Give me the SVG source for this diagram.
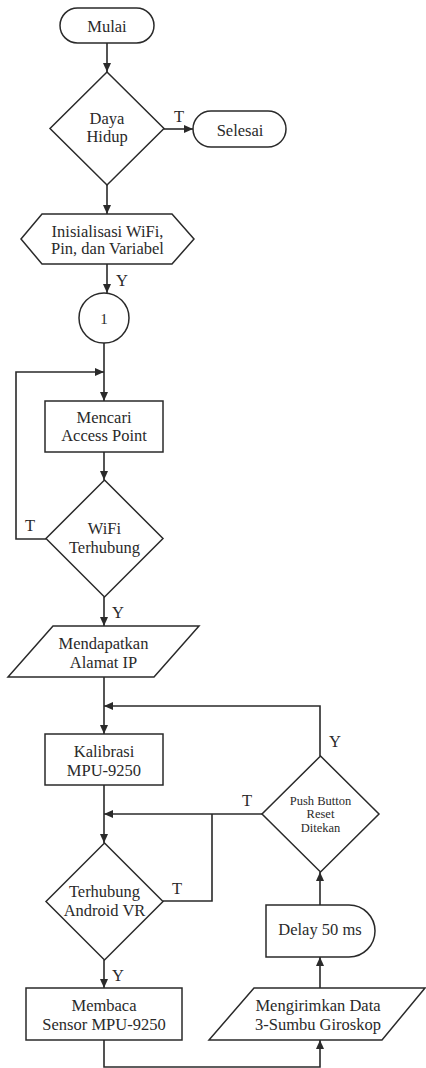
<svg xmlns="http://www.w3.org/2000/svg" width="426" height="1068" viewBox="0 0 426 1068" font-family="'Liberation Serif', Tinos, 'Times New Roman', 'Nimbus Roman', 'DejaVu Serif', serif">
<style>
.s{fill:#fff;stroke:#2a2a2a;stroke-width:1.5}
.c{fill:none;stroke:#2a2a2a;stroke-width:1.6}
text{font-family:'Liberation Serif', Tinos, 'Times New Roman', 'Nimbus Roman', 'DejaVu Serif', serif;font-size:16.5px;fill:#2a2a2a;text-anchor:middle}
.sm{font-size:12.5px}
</style>
<defs>
<marker id="a" markerUnits="userSpaceOnUse" markerWidth="10" markerHeight="10" refX="9" refY="4" orient="auto">
<path d="M0,0 L9,4 L0,8 Z" fill="#2a2a2a"/>
</marker>
</defs>
<rect width="426" height="1068" fill="#fff"/>
<g id="connectors">
<path class="c" d="M107,43 V72" marker-end="url(#a)"/>
<path class="c" d="M164,129 H193" marker-end="url(#a)"/>
<path class="c" d="M107,185 V214" marker-end="url(#a)"/>
<path class="c" d="M107,264 V293" marker-end="url(#a)"/>
<path class="c" d="M104,343 V401" marker-end="url(#a)"/>
<path class="c" d="M46,539 H16 V372 H104" marker-end="url(#a)"/>
<path class="c" d="M104,452 V480" marker-end="url(#a)"/>
<path class="c" d="M104,597 V626" marker-end="url(#a)"/>
<path class="c" d="M104,677 V734" marker-end="url(#a)"/>
<path class="c" d="M320,756 V706 H104" marker-end="url(#a)"/>
<path class="c" d="M104,785 V843" marker-end="url(#a)"/>
<path class="c" d="M262,814 H104" marker-end="url(#a)"/>
<path class="c" d="M163,901 H212 V814"/>
<path class="c" d="M104,960 V988" marker-end="url(#a)"/>
<path class="c" d="M104,1040 V1067 H320 V1040" marker-end="url(#a)"/>
<path class="c" d="M320,988 V957" marker-end="url(#a)"/>
<path class="c" d="M320,905 V872" marker-end="url(#a)"/>
<text x="179" y="122">T</text>
<text x="122" y="286">Y</text>
<text x="30" y="531">T</text>
<text x="118" y="618">Y</text>
<text x="335" y="747">Y</text>
<text x="247" y="806">T</text>
<text x="177" y="894">T</text>
<text x="118" y="981">Y</text>
</g>
<g id="mulai">
<rect class="s" x="60" y="8" width="94" height="35" rx="17.5"/>
<text x="107" y="32">Mulai</text>
</g>
<g id="daya-hidup">
<path class="s" d="M107,72 L164,128.5 L107,185 L50,128.5 Z"/>
<text x="107" y="124">Daya</text>
<text x="107" y="142">Hidup</text>
</g>
<g id="selesai">
<rect class="s" x="193" y="111" width="93" height="36" rx="18"/>
<text x="240" y="136">Selesai</text>
</g>
<g id="inisialisasi">
<path class="s" d="M42,214 H172 L194,239 L172,264 H42 L21,239 Z"/>
<text x="107.5" y="236.5">Inisialisasi WiFi,</text>
<text x="107.5" y="254">Pin, dan Variabel</text>
</g>
<g id="connector-1">
<circle class="s" cx="104" cy="318" r="25"/>
<text x="104" y="324" style="font-size:15px">1</text>
</g>
<g id="mencari">
<rect class="s" x="45" y="401" width="118" height="51"/>
<text x="104" y="423">Mencari</text>
<text x="104" y="441">Access Point</text>
</g>
<g id="wifi-terhubung">
<path class="s" d="M104.5,480 L163,538.5 L104.5,597 L46,538.5 Z"/>
<text x="104.5" y="534">WiFi</text>
<text x="104.5" y="553">Terhubung</text>
</g>
<g id="mendapatkan">
<path class="s" d="M53,626 H199 L154,677 H8 Z"/>
<text x="103.5" y="649">Mendapatkan</text>
<text x="103.5" y="668">Alamat IP</text>
</g>
<g id="kalibrasi">
<rect class="s" x="45" y="734" width="118" height="51"/>
<text x="104" y="757">Kalibrasi</text>
<text x="104" y="776">MPU-9250</text>
</g>
<g id="terhubung-android">
<path class="s" d="M104.5,843 L163,901.5 L104.5,960 L46,901.5 Z"/>
<text x="104.5" y="897">Terhubung</text>
<text x="104.5" y="916">Android VR</text>
</g>
<g id="membaca">
<rect class="s" x="26" y="988" width="156" height="52"/>
<text x="104" y="1011">Membaca</text>
<text x="104" y="1030">Sensor MPU-9250</text>
</g>
<g id="mengirimkan">
<path class="s" d="M254,988 H425 L382,1040 H209 Z"/>
<text x="318" y="1011">Mengirimkan Data</text>
<text x="318" y="1030">3-Sumbu Giroskop</text>
</g>
<g id="delay">
<path class="s" d="M266,905 H349 A26,26 0 0 1 349,957 H266 Z"/>
<text x="320" y="935">Delay 50 ms</text>
</g>
<g id="push-button">
<path class="s" d="M320.5,756 L379,814 L320.5,872 L262,814 Z"/>
<text class="sm" x="320.5" y="805">Push Button</text>
<text class="sm" x="320.5" y="818">Reset</text>
<text class="sm" x="320.5" y="832">Ditekan</text>
</g>
</svg>
